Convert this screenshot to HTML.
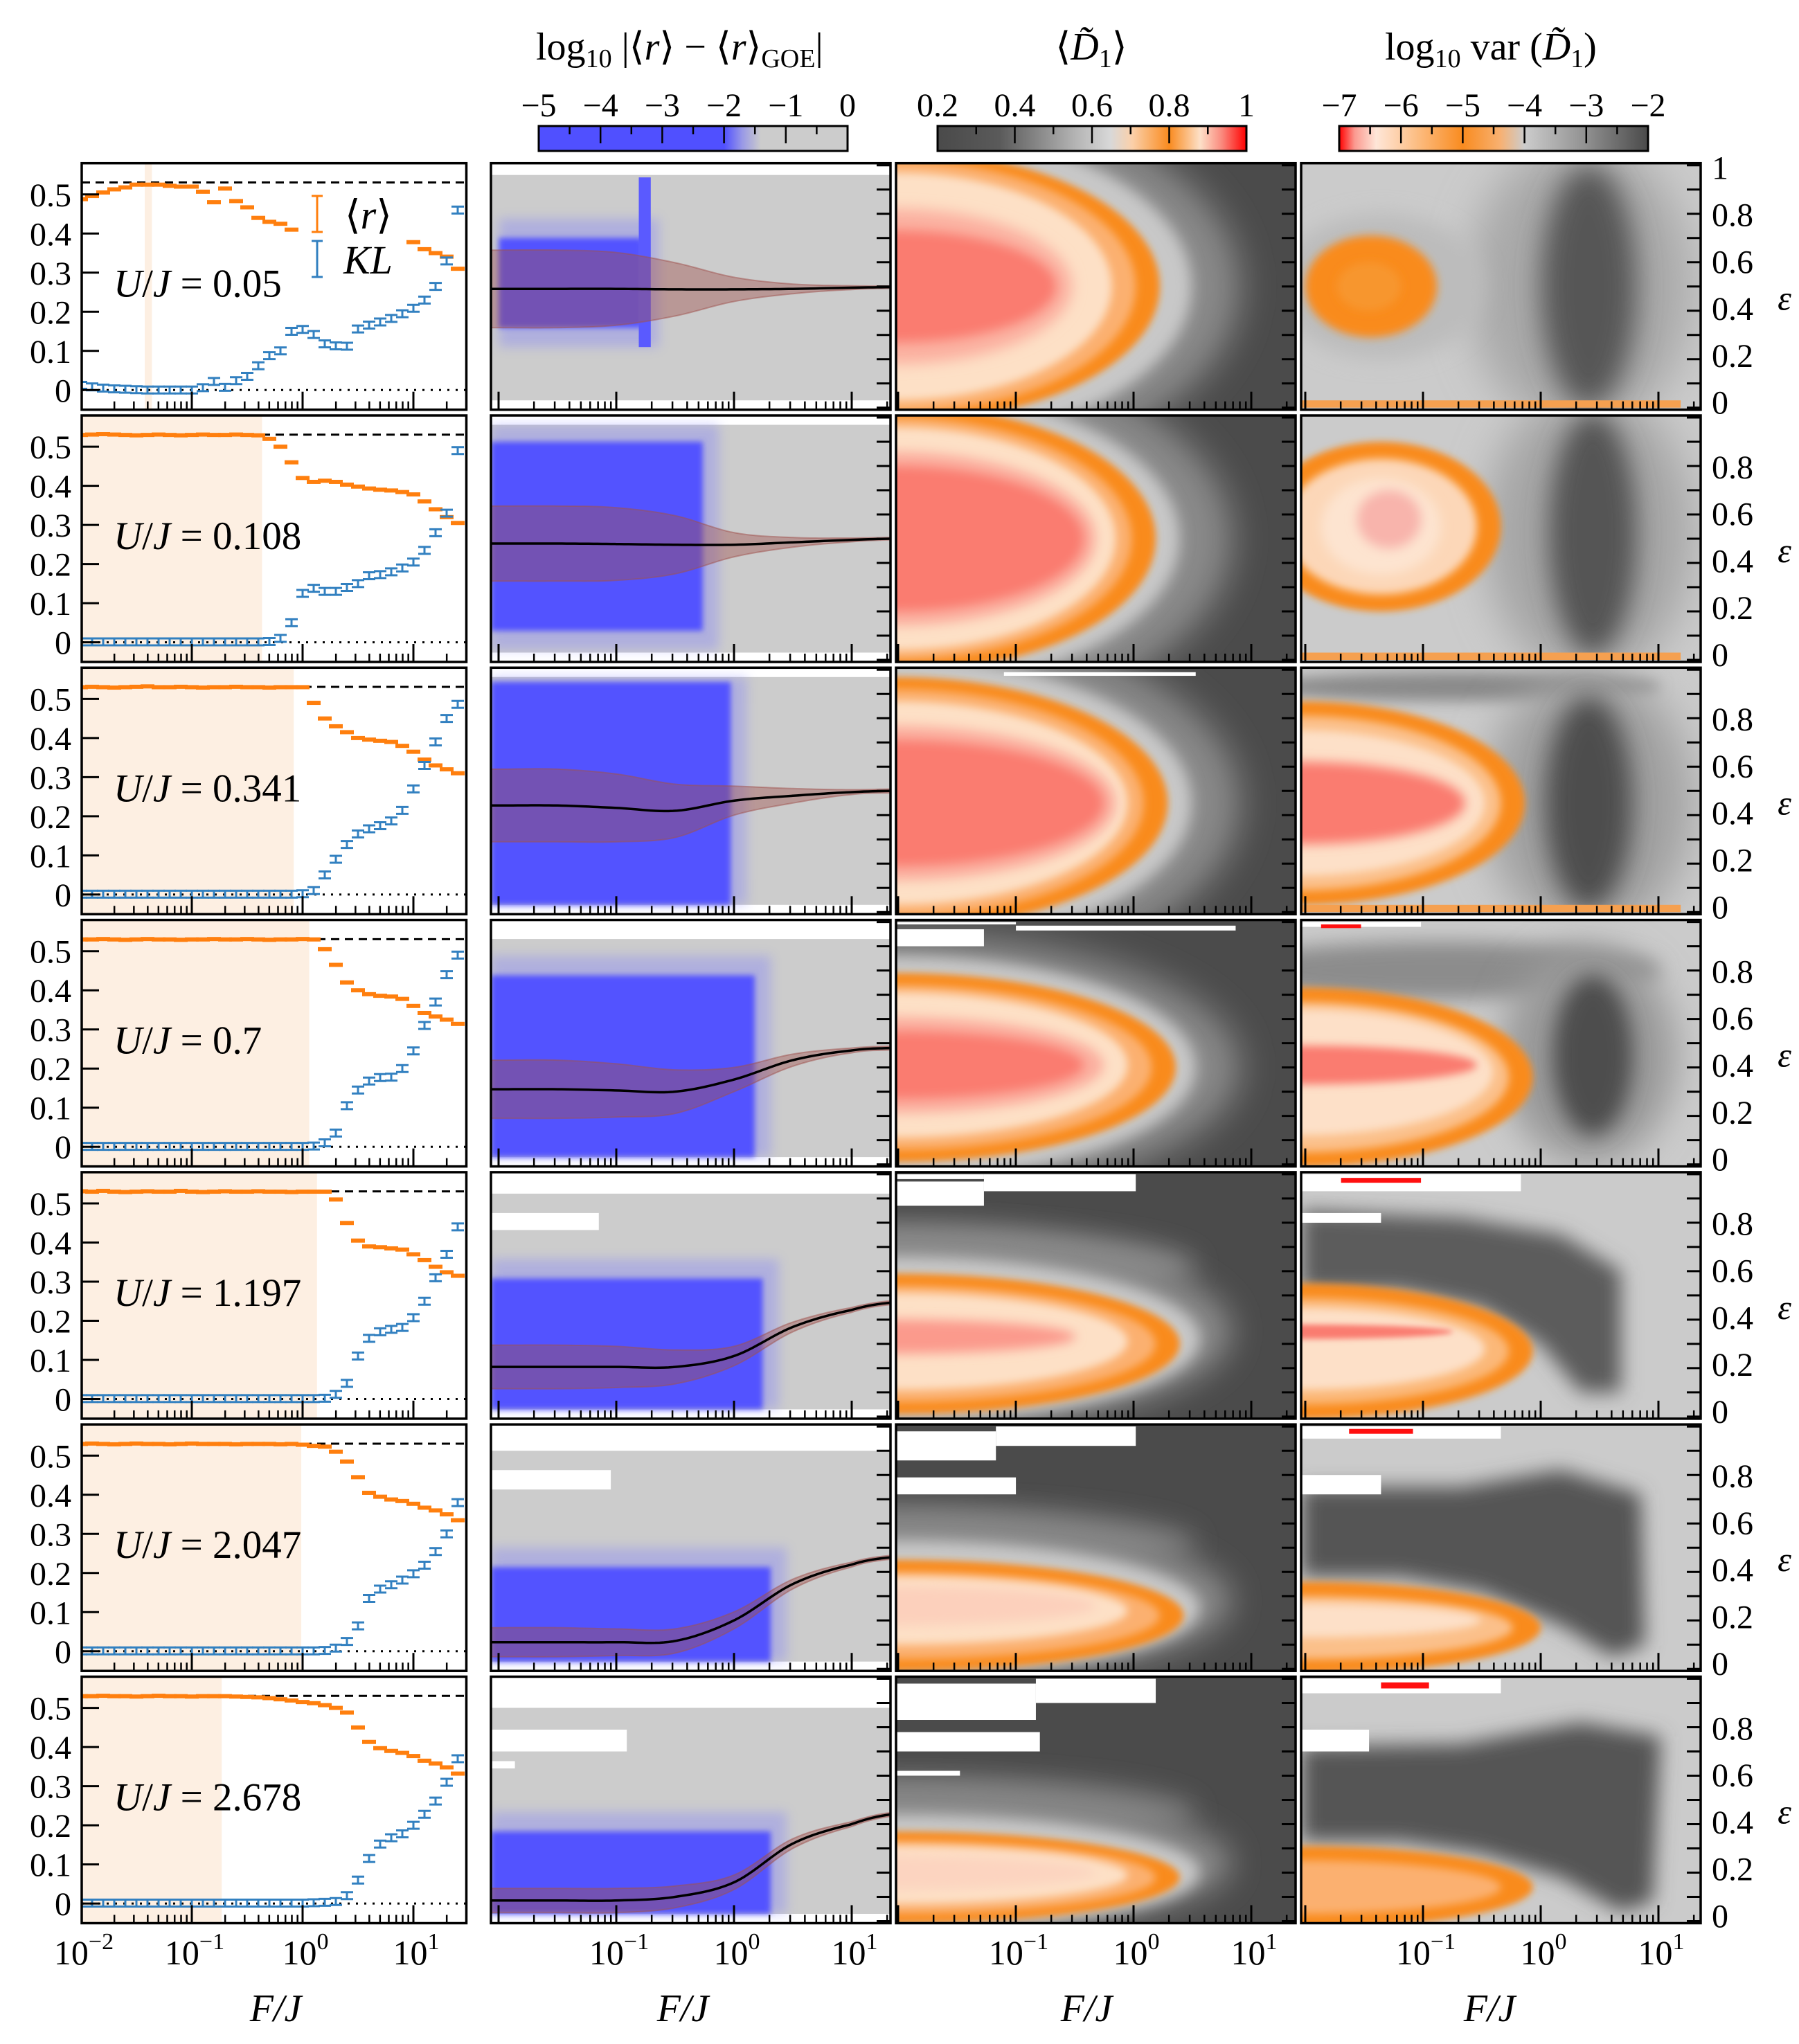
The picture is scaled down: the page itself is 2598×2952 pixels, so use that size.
<!DOCTYPE html>
<html><head><meta charset="utf-8">
<style>
html,body{margin:0;padding:0;background:#fff}
svg{display:block}
text{font-family:"Liberation Serif","DejaVu Serif",serif;fill:#000}
</style></head>
<body>
<svg id="fig" xmlns="http://www.w3.org/2000/svg" width="2598" height="2952" viewBox="0 0 2598 2952">
<defs id="defs">
  <filter id="b4" filterUnits="userSpaceOnUse" x="0" y="0" width="2598" height="2952"><feGaussianBlur stdDeviation="4"/></filter>
  <filter id="b5" filterUnits="userSpaceOnUse" x="0" y="0" width="2598" height="2952"><feGaussianBlur stdDeviation="5"/></filter>
  <filter id="b6" filterUnits="userSpaceOnUse" x="0" y="0" width="2598" height="2952"><feGaussianBlur stdDeviation="6"/></filter>
  <filter id="b8" filterUnits="userSpaceOnUse" x="0" y="0" width="2598" height="2952"><feGaussianBlur stdDeviation="8"/></filter>
  <filter id="b10" filterUnits="userSpaceOnUse" x="0" y="0" width="2598" height="2952"><feGaussianBlur stdDeviation="10"/></filter>
  <filter id="b14" filterUnits="userSpaceOnUse" x="0" y="0" width="2598" height="2952"><feGaussianBlur stdDeviation="14"/></filter>
  <filter id="b15" filterUnits="userSpaceOnUse" x="0" y="0" width="2598" height="2952"><feGaussianBlur stdDeviation="15"/></filter>
  <filter id="b18" filterUnits="userSpaceOnUse" x="0" y="0" width="2598" height="2952"><feGaussianBlur stdDeviation="18"/></filter>
  <filter id="b20" filterUnits="userSpaceOnUse" x="0" y="0" width="2598" height="2952"><feGaussianBlur stdDeviation="20"/></filter>
  <filter id="b22" filterUnits="userSpaceOnUse" x="0" y="0" width="2598" height="2952"><feGaussianBlur stdDeviation="22"/></filter>
  <filter id="b25" filterUnits="userSpaceOnUse" x="0" y="0" width="2598" height="2952"><feGaussianBlur stdDeviation="25"/></filter>
  <filter id="b30" filterUnits="userSpaceOnUse" x="0" y="0" width="2598" height="2952"><feGaussianBlur stdDeviation="30"/></filter>
  <linearGradient id="cbRatio" x1="0" x2="1" y1="0" y2="0">
    <stop offset="0" stop-color="#5050ff"/><stop offset="0.6" stop-color="#5050ff"/>
    <stop offset="0.66" stop-color="#9a9ae6"/><stop offset="0.72" stop-color="#cccccc"/><stop offset="1" stop-color="#cccccc"/>
  </linearGradient>
  <linearGradient id="cbD1" x1="0" x2="1" y1="0" y2="0">
    <stop offset="0" stop-color="#4a4a4a"/><stop offset="0.2" stop-color="#5a5a5a"/>
    <stop offset="0.45" stop-color="#b5b5b5"/><stop offset="0.56" stop-color="#d8d8d8"/>
    <stop offset="0.63" stop-color="#fbd0aa"/><stop offset="0.75" stop-color="#f98b1f"/>
    <stop offset="0.85" stop-color="#fde0c8"/><stop offset="0.92" stop-color="#fa8a7e"/>
    <stop offset="1" stop-color="#ff0000"/>
  </linearGradient>
  <linearGradient id="cbVar" x1="0" x2="1" y1="0" y2="0">
    <stop offset="0" stop-color="#ff0000"/><stop offset="0.05" stop-color="#fb9a90"/>
    <stop offset="0.12" stop-color="#fee6d8"/><stop offset="0.22" stop-color="#fdc898"/>
    <stop offset="0.4" stop-color="#f98b1f"/><stop offset="0.52" stop-color="#f8b070"/>
    <stop offset="0.6" stop-color="#cccccc"/><stop offset="0.8" stop-color="#909090"/>
    <stop offset="1" stop-color="#4a4a4a"/>
  </linearGradient>
</defs>

<text x="774" y="86" font-size="56">log<tspan font-size="38" dy="11">10</tspan><tspan dy="-11"> |⟨</tspan><tspan font-style="italic">r</tspan><tspan>⟩ − ⟨</tspan><tspan font-style="italic">r</tspan><tspan>⟩</tspan><tspan font-size="38" dy="11">GOE</tspan><tspan dy="-11">|</tspan></text>
<text x="1576" y="86" font-size="56" text-anchor="middle">⟨<tspan font-style="italic">D̃</tspan><tspan font-size="38" dy="11">1</tspan><tspan dy="-11">⟩</tspan></text>
<text x="2000" y="86" font-size="56">log<tspan font-size="38" dy="11">10</tspan><tspan dy="-11"> var (</tspan><tspan font-style="italic">D̃</tspan><tspan font-size="38" dy="11">1</tspan><tspan dy="-11">)</tspan></text>

<g id="cbars">
  <rect x="778" y="182" width="446" height="36" fill="url(#cbRatio)" stroke="#000" stroke-width="3"/>
  <rect x="1354" y="182" width="446" height="36" fill="url(#cbD1)" stroke="#000" stroke-width="3"/>
  <rect x="1934" y="182" width="446" height="36" fill="url(#cbVar)" stroke="#000" stroke-width="3"/>
</g>

<g id="plots"></g>

<text x="398" y="2919" font-size="56" text-anchor="middle" font-style="italic">F/J</text>
<text x="986" y="2919" font-size="56" text-anchor="middle" font-style="italic">F/J</text>
<text x="1569" y="2919" font-size="56" text-anchor="middle" font-style="italic">F/J</text>
<text x="2151" y="2919" font-size="56" text-anchor="middle" font-style="italic">F/J</text>
</svg>

<script>
const logF = [-2,-1.9,-1.8,-1.7,-1.6,-1.5,-1.4,-1.3,-1.2,-1.1,-1,-0.9,-0.8,-0.7,-0.6,-0.5,-0.4,-0.3,-0.2,-0.1,0,0.1,0.2,0.3,0.4,0.5,0.6,0.7,0.8,0.9,1,1.1,1.2,1.3,1.4];
const ujLabels = ['0.05','0.108','0.341','0.7','1.197','2.047','2.678'];
const rGOE = 0.5307;
const rMean = [
 [.488,.496,.505,.513,.518,.525,.525,.525,.522,.52,.52,.507,.48,.515,.483,.467,.44,.43,.425,.41,null,null,null,null,null,null,null,null,null,null,.378,.36,.35,.341,.31],
 [.53,.531,.532,.531,.53,.529,.53,.531,.53,.529,.53,.531,.53,.53,.531,.53,.529,.52,.50,.46,.42,.41,.413,.41,.403,.398,.393,.39,.388,.384,.378,.36,.34,.32,.305],
 [.53,.531,.53,.529,.53,.531,.532,.53,.53,.531,.53,.529,.53,.53,.531,.53,.53,.529,.53,.53,.53,.49,.45,.43,.415,.40,.396,.393,.39,.38,.365,.345,.33,.32,.31],
 [.53,.53,.531,.53,.529,.53,.531,.53,.53,.529,.53,.53,.531,.53,.53,.531,.53,.529,.53,.53,.531,.53,.505,.465,.42,.40,.39,.386,.384,.378,.36,.342,.333,.325,.314],
 [.531,.53,.532,.53,.529,.53,.531,.53,.53,.532,.53,.529,.53,.531,.53,.53,.531,.53,.53,.529,.53,.53,.53,.51,.45,.405,.39,.388,.385,.382,.37,.355,.338,.324,.315],
 [.53,.531,.53,.529,.53,.531,.53,.53,.529,.53,.531,.53,.53,.53,.529,.53,.53,.53,.529,.53,.528,.525,.523,.51,.485,.445,.405,.395,.388,.384,.377,.367,.36,.35,.335],
 [.53,.53,.531,.53,.53,.529,.53,.531,.53,.53,.529,.53,.53,.53,.529,.528,.527,.525,.522,.519,.515,.512,.507,.5,.488,.45,.413,.397,.39,.385,.377,.365,.358,.348,.332]
];
const klDiv = [
 [.012,.008,.005,.003,.002,.001,0,0,0,0,0,.006,.022,.007,.024,.035,.062,.088,.1,.15,.155,.142,.118,.113,.112,.156,.166,.174,.183,.195,.209,.23,.265,.33,.46],
 [.001,.001,.001,.001,.001,.001,.001,.001,.001,.001,.001,.001,.001,.001,.001,.001,.001,.002,.01,.05,.125,.138,.13,.13,.14,.15,.17,.173,.18,.19,.205,.235,.28,.33,.49],
 [.001,.001,.001,.001,.001,.001,.001,.001,.001,.001,.001,.001,.001,.001,.001,.001,.001,.001,.001,.001,.002,.01,.05,.09,.128,.155,.168,.176,.188,.215,.27,.33,.39,.45,.486],
 [.001,.001,.001,.001,.001,.001,.001,.001,.001,.001,.001,.001,.001,.001,.001,.001,.001,.001,.001,.001,.001,.002,.01,.035,.105,.145,.168,.177,.178,.2,.245,.31,.37,.44,.49],
 [.001,.001,.001,.001,.001,.001,.001,.001,.001,.001,.001,.001,.001,.001,.001,.001,.001,.001,.001,.001,.001,.001,.002,.012,.04,.11,.155,.172,.178,.183,.208,.25,.31,.37,.44],
 [.001,.001,.001,.001,.001,.001,.001,.001,.001,.001,.001,.001,.001,.001,.001,.001,.001,.001,.001,.001,.001,.001,.002,.008,.025,.065,.135,.159,.17,.182,.198,.22,.255,.3,.38],
 [.001,.001,.001,.001,.001,.001,.001,.001,.001,.001,.001,.001,.001,.001,.001,.001,.001,.001,.001,.001,.001,.002,.003,.005,.02,.06,.115,.152,.168,.178,.2,.228,.262,.31,.37]
];
const shadeFrom = [-1.425,-2.1,-2.1,-2.1,-2.1,-2.1,-2.1];
const shadeTo = [-1.36,-0.366,-0.08,0.06,0.13,-0.012,-0.73];
const fitLogF = [-2,-1.5,-1,-0.5,0,0.5,1,1.33];
const fitCenter = [
 [.49,.49,.49,.488,.488,.49,.495,.497],
 [.48,.48,.478,.475,.475,.485,.495,.5],
 [.44,.44,.43,.418,.46,.48,.495,.5],
 [.31,.31,.305,.30,.35,.43,.47,.48],
 [.205,.205,.205,.205,.25,.37,.44,.47],
 [.11,.11,.11,.115,.2,.35,.43,.46],
 [.085,.085,.085,.1,.16,.32,.40,.44]
];
const fitHalf = [
 [.16,.16,.15,.11,.05,.02,.008,.005],
 [.155,.155,.15,.12,.05,.02,.008,.005],
 [.15,.15,.14,.11,.06,.03,.01,.008],
 [.12,.12,.11,.09,.05,.025,.01,.008],
 [.09,.09,.085,.07,.04,.02,.01,.008],
 [.06,.06,.055,.05,.035,.02,.01,.008],
 [.05,.05,.05,.045,.03,.02,.01,.008]
];
const ratioTicks = ['−5','−4','−3','−2','−1','0'];
const d1Ticks = ['0.2','0.4','0.6','0.8','1'];
const varTicks = ['−7','−6','−5','−4','−3','−2'];

const NS = 'http://www.w3.org/2000/svg';
const root = document.getElementById('plots');
const defs = document.getElementById('defs');
function mk(tag, attrs, parent){const e=document.createElementNS(NS,tag);for(const k in attrs)e.setAttribute(k,attrs[k]);(parent||root).appendChild(e);return e;}
const cols = [{L:118,R:673.5},{L:709,R:1286},{L:1294,R:1871},{L:1879,R:2456}];
const PH = 356;
const T = r => 235.7 + 364.3*r;
const yv = (r,v) => T(r) + 327.6 - v*565;
const ye = (r,e) => T(r) + 3 + 350*(1-e);
const xF = [l => 437+160*l, l => 1060+170*l, l => 1637+170*l, l => 2225+170*l];
function cr(xs, ys, x){
  x = Math.max(xs[0], Math.min(xs[xs.length-1], x));
  let k=0; while(k<xs.length-2 && x>xs[k+1]) k++;
  const t=(x-xs[k])/(xs[k+1]-xs[k]);
  const p0=ys[Math.max(k-1,0)], p1=ys[k], p2=ys[k+1], p3=ys[Math.min(k+2,ys.length-1)];
  return 0.5*((2*p1)+(-p0+p2)*t+(2*p0-5*p1+4*p2-p3)*t*t+(-p0+3*p1-3*p2+p3)*t*t*t);
}

const d1Spec = [
 [[0,.5,.86,.8,'#8a8a8a',25],[0,.5,.74,.66,'#c8c8c8',10],[0,.5,.66,.56,'#f98b1f',5],[0,.5,.6,.52,'#fbb070',6],[0,.5,.54,.47,'#fde0c6',6],[0,.5,.44,.32,'#fbb0a0',10],[0,.5,.40,.23,'#fa7b70',8]],
 [[0,.5,.84,.78,'#8a8a8a',25],[0,.5,.71,.62,'#c8c8c8',10],[0,.5,.65,.55,'#f98b1f',5],[0,.5,.59,.5,'#fbb070',6],[0,.5,.55,.46,'#fde0c6',6],[0,.5,.5,.36,'#fbb0a0',8],[0,.5,.47,.3,'#fa7b70',8]],
 [[0,.45,.86,.75,'#8a8a8a',25],[0,.45,.74,.6,'#c8c8c8',10],[0,.45,.68,.52,'#f98b1f',5],[0,.45,.62,.47,'#fbb070',6],[0,.45,.58,.42,'#fde0c6',6],[0,.45,.55,.32,'#fbb0a0',8],[0,.45,.52,.26,'#fa7b70',8]],
 [[0,.4,.86,.55,'#8a8a8a',25],[0,.4,.75,.46,'#c8c8c8',10],[0,.4,.70,.39,'#f98b1f',5],[0,.4,.64,.34,'#fbb070',6],[0,.41,.58,.3,'#fde0c6',6],[0,.41,.52,.2,'#fbb0a0',8],[0,.41,.47,.14,'#fa7b70',8]],
 [[0,.62,.75,.16,'#858585',18],[0,.35,.84,.42,'#8a8a8a',22],[0,.32,.76,.34,'#c8c8c8',10],[0,.3,.71,.29,'#f98b1f',5],[0,.3,.65,.24,'#fbb070',6],[0,.31,.58,.2,'#fde0c6',6],[0,.33,.45,.07,'#fb9a8c',8]],
 [[0,.52,.75,.15,'#7a7a7a',18],[0,.28,.84,.35,'#8a8a8a',22],[0,.25,.76,.28,'#c8c8c8',10],[0,.22,.72,.23,'#f98b1f',5],[0,.22,.66,.18,'#fbb070',6],[0,.24,.58,.14,'#fde0c6',6],[0,.26,.5,.08,'#fcd0bc',8]],
 [[0,.45,.75,.15,'#7a7a7a',18],[0,.24,.84,.3,'#8a8a8a',22],[0,.2,.76,.24,'#c8c8c8',10],[0,.18,.71,.19,'#f98b1f',5],[0,.18,.65,.15,'#fbb070',6],[0,.19,.58,.12,'#fde0c6',6],[0,.2,.5,.07,'#fcd4c0',8]]
];
const d1White = [[],[],[[.27,.75,.975,.99]],[[0,.22,.9,.97],[.3,.85,.965,.985],[0,.3,.99,1]],[[0,.22,.87,.97],[.22,.6,.93,1],[0,.22,.98,1]],[[0,.25,.86,.98],[.25,.6,.92,1],[0,.3,.72,.79]],[[0,.35,.83,.98],[.35,.65,.9,1],[0,.36,.70,.78],[0,.16,.6,.62]]];
const varSpec = [
 [['e',.7,.5,.28,.6,'#a9a9a9',30],['e',.72,.5,.12,.5,'#575757',20],['e',.2,.5,.26,.3,'#bcbcbc',15],['e',.175,.5,.165,.21,'#f98b1f',6],['e',.17,.5,.08,.1,'#f7962f',6]],
 [['e',.72,.52,.26,.6,'#a5a5a5',30],['e',.73,.52,.11,.5,'#545454',18],['e',.2,.55,.3,.35,'#f98b1f',5],['e',.2,.55,.24,.28,'#fcd7b8',6],['e',.2,.55,.15,.2,'#fde4d0',8],['e',.22,.58,.08,.12,'#f8b4ac',8]],
 [['e',.4,.93,.5,.06,'#8a8a8a',10],['e',.72,.45,.26,.55,'#a0a0a0',30],['e',.72,.45,.11,.44,'#4e4e4e',18],['e',0,.45,.56,.42,'#f98b1f',5],['e',0,.45,.5,.36,'#fbc08a',6],['e',0,.45,.46,.3,'#fde0c8',6],['e',0,.45,.41,.17,'#fa7b70',8]],
 [['e',.35,.8,.55,.12,'#8c8c8c',14],['e',.72,.45,.22,.45,'#9a9a9a',25],['e',.73,.45,.1,.33,'#4e4e4e',15],['e',0,.36,.58,.37,'#f98b1f',5],['e',0,.36,.52,.31,'#fbc08a',6],['e',0,.38,.48,.26,'#fde0c8',6],['e',0,.41,.44,.08,'#fa7b70',6]],
 [['p',[[0,.52],[0,.85],[.4,.82],[.65,.75],[.8,.6],[.8,.1],[.7,.1],[.6,.3],[.45,.45],[.25,.52]],'#5c5c5c',14],['e',0,.27,.58,.28,'#f98b1f',5],['e',0,.27,.52,.22,'#fbb878',6],['e',0,.28,.46,.17,'#fde0c8',6],['e',0,.35,.38,.03,'#fa7b70',4]],
 [['p',[[0,.38],[0,.75],[.4,.75],[.65,.82],[.85,.72],[.86,.1],[.78,.05],[.65,.18],[.45,.32],[.25,.38]],'#555555',14],['e',0,.17,.6,.19,'#f98b1f',5],['e',0,.17,.53,.13,'#fbc08a',6],['e',0,.2,.45,.07,'#fde0c8',6]],
 [['p',[[0,.33],[0,.72],[.4,.73],[.7,.82],[.9,.76],[.88,.08],[.8,.04],[.65,.18],[.45,.28],[.25,.33]],'#555555',14],['e',0,.14,.58,.17,'#f98b1f',5],['e',0,.14,.5,.11,'#fbb070',6]]
];
const varWhite = [[],[],[],[[0,.3,.98,1]],[[0,.55,.93,1],[0,.2,.8,.84]],[[0,.5,.95,1],[0,.2,.72,.8]],[[0,.5,.94,1],[0,.17,.7,.79]]];
const varRed = [null,null,null,[.05,.15,.975,.99],[.1,.3,.965,.985],[.12,.28,.97,.99],[.2,.32,.96,.985]];
const col2Grey = [[.03,.96],[.03,.97],[.03,.97],[.03,.93],[.03,.92],[.03,.9],[.03,.88]];
const col2White = [[],[],[],[],[[0,.27,.77,.84]],[[0,.3,.74,.82]],[[0,.34,.7,.79],[0,.06,.63,.66]]];
const blueBox = [[.02,.38,.33,.7],[.0,.53,.12,.9],[.0,.6,.03,.95],[.0,.66,.03,.78],[.0,.68,.03,.57],[.0,.7,.03,.42],[.0,.7,.03,.37]];

function clipFor(c,r){
  const id='clip-'+c+'-'+r;
  const cp=mk('clipPath',{id:id},defs);
  mk('rect',{x:cols[c].L,y:T(r),width:cols[c].R-cols[c].L,height:PH},cp);
  return 'url(#'+id+')';
}
function U(c,u){return cols[c].L + u*(cols[c].R-cols[c].L);}
function bottomTicks(c,r,g){
  const f=xF[c], y=T(r)+PH;
  for(let d=-2; d<=1; d++){
    for(let m=1; m<=9; m++){
      const l=d+Math.log10(m), x=f(l);
      if(x<cols[c].L-0.5||x>cols[c].R) continue;
      const len = m===1?26:12;
      const t=mk('line',{x1:x,x2:x,y1:y,y2:y-len,stroke:'#000','stroke-width':m===1?3:2.5},g);
      
      
    }
  }
}
function rightTicks(c,r,g){
  for(let k=0;k<=10;k++){
    const y=ye(r,k/10);
    const t=mk('line',{x1:cols[c].R-20,x2:cols[c].R,y1:y,y2:y,stroke:'#000','stroke-width':3},g);
    
    
  }
}
function frame(c,r,g){
  const f=mk('rect',{x:cols[c].L,y:T(r),width:cols[c].R-cols[c].L,height:PH,fill:'none',stroke:'#000','stroke-width':3.5},g);
  
  
}
function shape(c,r,s,g){
  let el;
  if(s[0]==='p'){
    const pts=s[1].map(p=>U(c,p[0])+','+ye(r,p[1])).join(' ');
    el=mk('polygon',{points:pts,fill:s[2],filter:'url(#b'+s[3]+')'},g);
  } else {
    const q = s[0]==='e'? s.slice(1): s;
    el=mk('ellipse',{cx:U(c,q[0]),cy:ye(r,q[1]),rx:q[2]*(cols[c].R-cols[c].L),ry:q[3]*350,fill:q[4],filter:'url(#b'+q[5]+')'},g);
  }
  
  
}
function boxes(c,r,list,fill,g,name){
  list.forEach(b=>{
    const el=mk('rect',{x:U(c,b[0]),y:ye(r,b[3]),width:(b[1]-b[0])*(cols[c].R-cols[c].L),height:ye(r,b[2])-ye(r,b[3]),fill:fill},g);
    
    
  });
}

for(let r=0;r<7;r++){
  const g1=mk('g',{'clip-path':clipFor(0,r)});
  
  
  const sx0=Math.max(cols[0].L,xF[0](shadeFrom[r])), sx1=xF[0](shadeTo[r]);
  const sh=mk('rect',{x:sx0,y:T(r),width:sx1-sx0,height:PH,fill:'#fdefe2'},g1);
  
  
  const dl=mk('line',{x1:cols[0].L,x2:cols[0].R,y1:yv(r,rGOE),y2:yv(r,rGOE),stroke:'#000','stroke-width':3,'stroke-dasharray':'12 8'},g1);
  
  
  const zl=mk('line',{x1:cols[0].L,x2:cols[0].R,y1:yv(r,0),y2:yv(r,0),stroke:'#000','stroke-width':3,'stroke-dasharray':'3 9'},g1);
  
  
  logF.forEach((l,i)=>{
    const v=rMean[r][i];
    if(v===null) return;
    const p=mk('rect',{x:xF[0](l)-10,y:yv(r,v)-3,width:20,height:6,fill:'#ff7f0e'},g1);
    
    
  });
  logF.forEach((l,i)=>{
    const v=klDiv[r][i];
    if(v===null) return;
    const x=xF[0](l), y=yv(r,v);
    const p=mk('path',{d:`M${x-9},${y-5}h18M${x-9},${y+5}h18M${x},${y-5}v10`,stroke:'#3280c0','stroke-width':3,fill:'none'},g1);
    
    
  });
  const a1=mk('g',{});
  
  
  for(let k=0;k<=5;k++){
    const y=yv(r,k/10);
    const t=mk('line',{x1:cols[0].L,x2:cols[0].L+25,y1:y,y2:y,stroke:'#000','stroke-width':3},a1);
    
    
    const lb=mk('text',{x:103,y:y+17,'font-size':48,'text-anchor':'end'},a1);
    lb.textContent = k===0?'0':'0.'+k;
    
    
  }
  bottomTicks(0,r,a1);
  frame(0,r,a1);
  const uj=mk('text',{x:164,y:T(r)+193,'font-size':57},a1);
  uj.innerHTML='<tspan font-style="italic">U</tspan>/<tspan font-style="italic">J</tspan> = '+ujLabels[r];
  
  

  const g2=mk('g',{'clip-path':clipFor(1,r)});
  
  
  boxes(1,r,[[0,1,col2Grey[r][0],col2Grey[r][1]]],'#cccccc',g2,'gray-region');
  boxes(1,r,col2White[r],'#ffffff',g2,'empty-region');
  const bb=blueBox[r];
  const bf=mk('rect',{x:U(1,bb[0]),y:ye(r,Math.min(bb[3]+.08,.97)),width:(bb[1]-bb[0]+.04)*577,height:ye(r,Math.max(bb[2]-.08,.03))-ye(r,Math.min(bb[3]+.08,.97)),fill:'#7a7aff',opacity:.35,filter:'url(#b8)'},g2);
  
  
  const bs=mk('rect',{x:U(1,bb[0]),y:ye(r,bb[3]),width:(bb[1]-bb[0])*577,height:ye(r,bb[2])-ye(r,bb[3]),fill:'#5252ff',filter:'url(#b4)'},g2);
  
  
  if(r===0){
    boxes(1,r,[[.37,.40,.25,.95]],'#5a5aff',g2,'blue-strip');
  }
  const up=[], lo=[], mid=[];
  for(let s=0;s<=90;s++){
    const x=cols[1].L+s*(cols[1].R-cols[1].L)/90, l=(x-1060)/170;
    const c=cr(fitLogF,fitCenter[r],l), h=cr(fitLogF,fitHalf[r],l);
    up.push(x+','+ye(r,c+h)); lo.unshift(x+','+ye(r,c-h)); mid.push(x+','+ye(r,c));
  }
  const band=mk('polygon',{points:up.concat(lo).join(' '),fill:'#a0524d','fill-opacity':.42,stroke:'#a0524d','stroke-opacity':.5,'stroke-width':2},g2);
  
  
  const fl=mk('polyline',{points:mid.join(' '),fill:'none',stroke:'#000','stroke-width':3.5},g2);
  
  
  const a2=mk('g',{});
  
  
  bottomTicks(1,r,a2); rightTicks(1,r,a2); frame(1,r,a2);

  const g3=mk('g',{'clip-path':clipFor(2,r)});
  
  
  boxes(2,r,[[0,1,-0.1,1.1]],'#4b4b4b',g3,'heatmap-background');
  d1Spec[r].forEach(s=>shape(2,r,s,g3));
  boxes(2,r,d1White[r],'#ffffff',g3,'empty-region');
  const a3=mk('g',{});
  
  
  bottomTicks(2,r,a3); rightTicks(2,r,a3); frame(2,r,a3);

  const g4=mk('g',{'clip-path':clipFor(3,r)});
  
  
  boxes(3,r,[[0,1,-0.1,1.1]],'#cbcbcb',g4,'heatmap-background');
  varSpec[r].forEach(s=>shape(3,r,s,g4));
  if(r<3) boxes(3,r,[[0,.95,0,.03]],'#f5a050',g4,'orange-edge-streak');
  boxes(3,r,varWhite[r],'#ffffff',g4,'empty-region');
  if(varRed[r]) boxes(3,r,[varRed[r]],'#ff1010',g4,'red-cells');
  const a4=mk('g',{});
  
  
  bottomTicks(3,r,a4); rightTicks(3,r,a4); frame(3,r,a4);
  const eps=(r===0)?[1,.8,.6,.4,.2,0]:[.8,.6,.4,.2,0];
  eps.forEach(e=>{
    const lb=mk('text',{x:2472,y:T(r)+6+339*(1-e)+17,'font-size':48},a4);
    lb.textContent = e===1?'1':(e===0?'0':e.toFixed(1));
    
    
  });
  const el=mk('text',{x:2577,y:T(r)+212,'font-size':50,'font-style':'italic','text-anchor':'middle'},a4);
  el.textContent='ε';
  
  
}

const lg=mk('g',{});


const le1=mk('path',{d:'M450,283h16M450,335h16M458,283v52',stroke:'#ff7f0e','stroke-width':3,fill:'none'},lg);


const le2=mk('path',{d:'M450,348h16M450,400h16M458,348v52',stroke:'#3280c0','stroke-width':3,fill:'none'},lg);


const lt1=mk('text',{x:498,y:330,'font-size':58},lg);
lt1.innerHTML='⟨<tspan font-style="italic">r</tspan>⟩';


const lt2=mk('text',{x:496,y:395,'font-size':58,'font-style':'italic'},lg);
lt2.textContent='KL';



const xl=mk('g',{});


for(let c=0;c<4;c++){
  const decs = c===0?[-2,-1,0,1]:[-1,0,1];
  decs.forEach(d=>{
    const t=mk('text',{x:xF[c](d)+4,y:2837,'font-size':50,'text-anchor':'middle'},xl);
    t.innerHTML='10<tspan font-size="34" dy="-22">'+(d<0?'−'+(-d):d)+'</tspan>';
    
    
  });
}

const cbg=document.getElementById('cbars');
function cbar(x0,labels,nMinor){
  labels.forEach((s,i)=>{
    const x=x0+i*446/(labels.length-1);
    const t=mk('text',{x:x,y:168,'font-size':48,'text-anchor':'middle'},cbg);
    t.textContent=s;
    
    
  });
  const n=(labels.length-1)*nMinor;
  for(let k=1;k<n;k++){
    const x=x0+k*446/n;
    const major = k%nMinor===0;
    const t=mk('line',{x1:x,x2:x,y1:182,y2:major?207:194,stroke:'#000','stroke-width':2.5},cbg);
    
    
  }
}
cbar(778,ratioTicks,2);
cbar(1354,d1Ticks,2);
cbar(1934,varTicks,2);
</script>
</body></html>
